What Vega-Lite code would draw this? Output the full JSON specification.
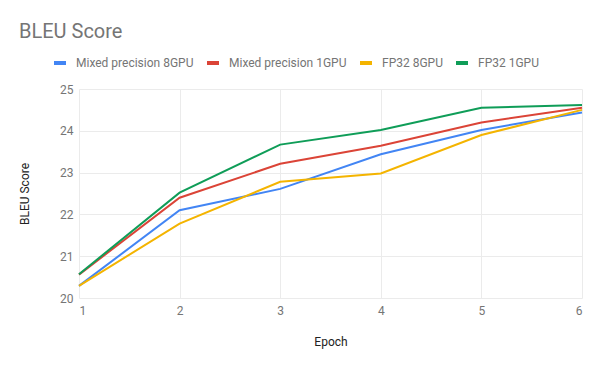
{
  "$schema": "https://vega.github.io/schema/vega-lite/v6.json",
  "width": 503,
  "height": 209,
  "autosize": {"type": "none"},
  "padding": {"left": 79, "top": 89, "right": 18, "bottom": 73},
  "background": "white",
  "title": {
    "text": "BLEU Score",
    "anchor": "start",
    "frame": "group",
    "dx": -60,
    "offset": 13,
    "font": "Roboto",
    "fontSize": 20,
    "fontWeight": "normal",
    "color": "#757575"
  },
  "data": {
    "values": [
      {"epoch": 1, "series": "Mixed precision 8GPU", "bleu": 20.29},
      {"epoch": 2, "series": "Mixed precision 8GPU", "bleu": 22.10},
      {"epoch": 3, "series": "Mixed precision 8GPU", "bleu": 22.61},
      {"epoch": 4, "series": "Mixed precision 8GPU", "bleu": 23.44},
      {"epoch": 5, "series": "Mixed precision 8GPU", "bleu": 24.02},
      {"epoch": 6, "series": "Mixed precision 8GPU", "bleu": 24.44},
      {"epoch": 1, "series": "Mixed precision 1GPU", "bleu": 20.56},
      {"epoch": 2, "series": "Mixed precision 1GPU", "bleu": 22.40},
      {"epoch": 3, "series": "Mixed precision 1GPU", "bleu": 23.21},
      {"epoch": 4, "series": "Mixed precision 1GPU", "bleu": 23.64},
      {"epoch": 5, "series": "Mixed precision 1GPU", "bleu": 24.20},
      {"epoch": 6, "series": "Mixed precision 1GPU", "bleu": 24.55},
      {"epoch": 1, "series": "FP32 8GPU", "bleu": 20.29},
      {"epoch": 2, "series": "FP32 8GPU", "bleu": 21.78},
      {"epoch": 3, "series": "FP32 8GPU", "bleu": 22.78},
      {"epoch": 4, "series": "FP32 8GPU", "bleu": 22.98},
      {"epoch": 5, "series": "FP32 8GPU", "bleu": 23.90},
      {"epoch": 6, "series": "FP32 8GPU", "bleu": 24.50},
      {"epoch": 1, "series": "FP32 1GPU", "bleu": 20.57},
      {"epoch": 2, "series": "FP32 1GPU", "bleu": 22.52},
      {"epoch": 3, "series": "FP32 1GPU", "bleu": 23.67},
      {"epoch": 4, "series": "FP32 1GPU", "bleu": 24.02},
      {"epoch": 5, "series": "FP32 1GPU", "bleu": 24.55},
      {"epoch": 6, "series": "FP32 1GPU", "bleu": 24.62}
    ]
  },
  "mark": {"type": "line", "strokeWidth": 2},
  "encoding": {
    "x": {
      "field": "epoch",
      "type": "quantitative",
      "scale": {"domain": [1, 6], "nice": false, "zero": false},
      "axis": {
        "title": "Epoch",
        "values": [1, 2, 3, 4, 5, 6],
        "format": "d",
        "grid": true,
        "gridColor": "#ebebeb",
        "domain": false,
        "ticks": false,
        "labelFont": "Roboto",
        "labelFontSize": 12,
        "labelColor": "#757575",
        "labelPadding": 7,
        "titleFont": "Roboto",
        "titleFontSize": 12,
        "titleFontWeight": "normal",
        "titleColor": "#222222",
        "titlePadding": 20
      }
    },
    "y": {
      "field": "bleu",
      "type": "quantitative",
      "scale": {"domain": [20, 25], "nice": false, "zero": false},
      "axis": {
        "title": "BLEU Score",
        "values": [20, 21, 22, 23, 24, 25],
        "grid": true,
        "gridColor": "#ebebeb",
        "domain": false,
        "ticks": false,
        "labelFont": "Roboto",
        "labelFontSize": 12,
        "labelColor": "#757575",
        "labelPadding": 6,
        "titleFont": "Roboto",
        "titleFontSize": 12,
        "titleFontWeight": "normal",
        "titleColor": "#222222",
        "titlePadding": 28
      }
    },
    "color": {
      "field": "series",
      "type": "nominal",
      "sort": ["Mixed precision 8GPU", "Mixed precision 1GPU", "FP32 8GPU", "FP32 1GPU"],
      "scale": {
        "domain": ["Mixed precision 8GPU", "Mixed precision 1GPU", "FP32 8GPU", "FP32 1GPU"],
        "range": ["#4285F4", "#DB4437", "#F4B400", "#0F9D58"]
      },
      "legend": {
        "title": null,
        "orient": "none",
        "direction": "horizontal",
        "legendX": -27,
        "legendY": -34,
        "symbolType": "stroke",
        "symbolStrokeWidth": 4,
        "symbolSize": 144,
        "labelFont": "Roboto",
        "labelFontSize": 12,
        "labelColor": "#757575",
        "labelOffset": 8,
        "columnPadding": 5
      }
    }
  },
  "config": {"view": {"stroke": null}}
}
